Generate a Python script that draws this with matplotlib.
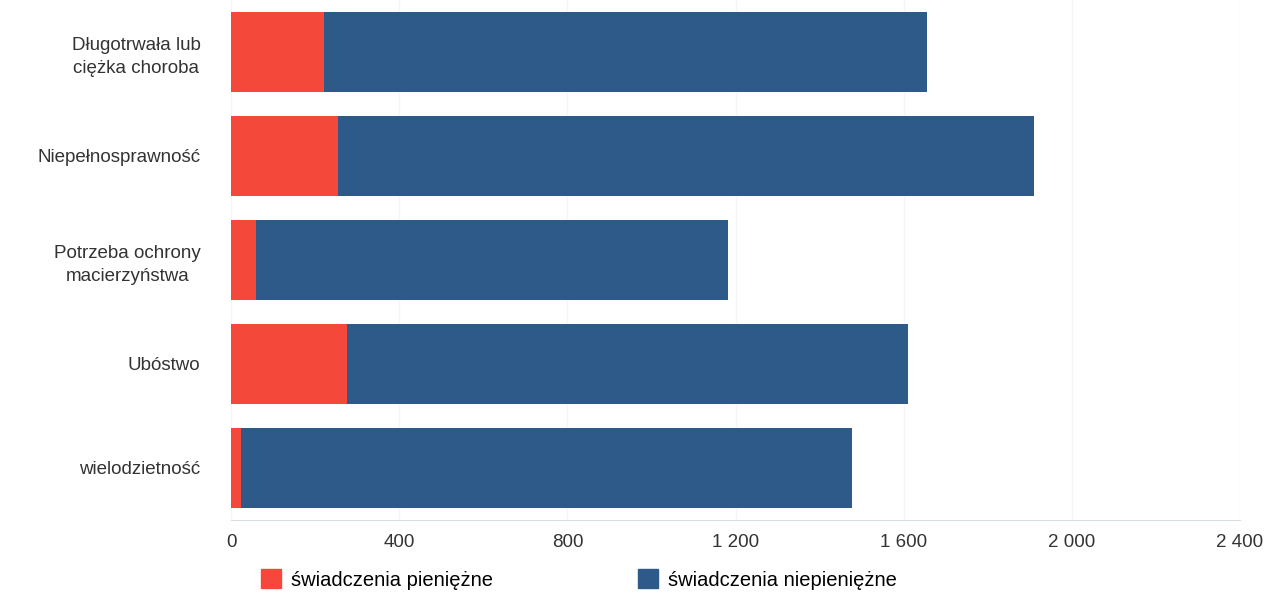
import matplotlib.pyplot as plt
from matplotlib.patches import Patch

categories = ['Długotrwała lub\nciężka choroba', 'Niepełnosprawność',
              'Potrzeba ochrony\nmacierzyństwa', 'Ubóstwo', 'wielodzietność']
pieniezne = [221, 254, 59, 275, 24]
niepieniezne = [1435, 1657, 1123, 1335, 1452]
ticks = [0, 400, 800, 1200, 1600, 2000, 2400]
tick_labels = ['0', '400', '800', '1 200', '1 600', '2 000', '2 400']

RED = '#f4483a'
BLUE = '#2d5a89'

plt.rcParams['font.family'] = ['Liberation Sans', 'DejaVu Sans']

fig = plt.figure(figsize=(12.77, 5.97), dpi=100)
ax = fig.add_axes([0.181, 0.129, 0.79, 0.871])

y = list(range(len(categories)))
ax.barh(y, pieniezne, height=0.76, color=RED, zorder=3)
ax.barh(y, niepieniezne, left=pieniezne, height=0.76, color=BLUE, zorder=3)

ax.set_ylim(len(categories) - 0.5, -0.5)
ax.set_xlim(0, 2400)
ax.set_yticks(y)
ax.set_yticklabels(categories, fontsize=13.5, color='#333333',
                   multialignment='center', linespacing=1.45)
ax.set_xticks(ticks)
ax.set_xticklabels(tick_labels, fontsize=13.5, color='#333333')
ax.tick_params(axis='y', length=0, pad=22)
ax.tick_params(axis='x', length=0, pad=10)

ax.grid(axis='x', color='#f5f5f5', linewidth=1, zorder=0)
for side in ['top', 'right', 'left']:
    ax.spines[side].set_visible(False)
ax.spines['bottom'].set_color('#d8dde3')

handles = [Patch(color=RED, label='świadczenia pieniężne'),
           Patch(color=BLUE, label='świadczenia niepieniężne')]
fig.legend(handles=handles, loc='lower left', bbox_to_anchor=(0.19, -0.018),
           ncol=2, frameon=False, fontsize=14.5, handlelength=1.0, handleheight=1.1,
           columnspacing=7.2, handletextpad=0.5)

fig.savefig('out.png', dpi=100)
